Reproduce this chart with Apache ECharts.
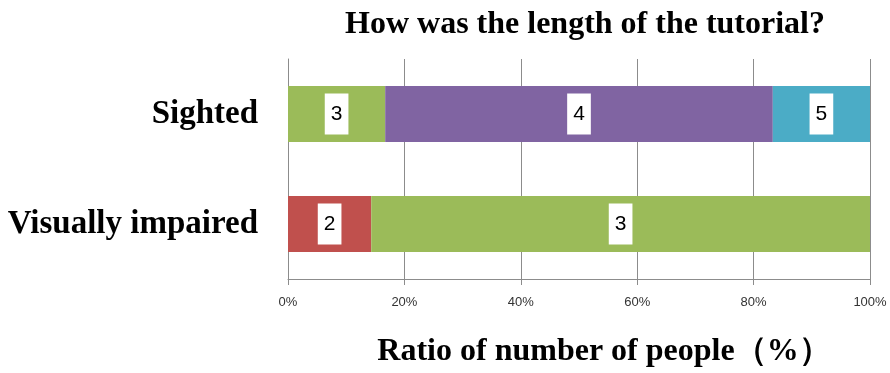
<!DOCTYPE html>
<html>
<head>
<meta charset="utf-8">
<script src="https://cdn.jsdelivr.net/npm/echarts@6/dist/echarts.min.js"></script>
<style>
  html, body { margin: 0; padding: 0; background: #fff; }
  #chart { width: 890px; height: 373px; }
</style>
</head>
<body>
<div id="chart"></div>
<script>
// Respondent groups (top to bottom)
const groups = ['Sighted', 'Visually impaired'];

// Rating levels given for the tutorial length, with share of each group (%)
const ratings = ['2', '3', '4', '5'];
const rating2 = [0, 14.3];
const rating3 = [16.7, 85.7];
const rating4 = [66.6, 0];
const rating5 = [16.7, 0];

const xTicks = [0, 20, 40, 60, 80, 100];
const ratingColors = ['#C0504D', '#9BBB59', '#8064A2', '#4BACC6'];

const serif = '"Liberation Serif", "Times New Roman", serif';
const sans = '"Liberation Sans", Arial, sans-serif';

const shares = [rating2, rating3, rating4, rating5];

const chart = echarts.init(document.getElementById('chart'), null, { renderer: 'canvas' });

chart.setOption({
  animation: false,
  backgroundColor: '#ffffff',
  title: {
    text: 'How was the length of the tutorial?',
    left: 580,
    textAlign: 'center',
    top: 4,
    textStyle: { fontFamily: serif, fontWeight: 'bold', fontSize: 32, color: '#000' }
  },
  grid: { left: 288, right: 20, top: 59, bottom: 92 },
  xAxis: {
    type: 'value',
    min: xTicks[0],
    max: xTicks[xTicks.length - 1],
    interval: 20,
    name: 'Ratio of number of people（%）',
    nameLocation: 'middle',
    nameGap: 57,
    nameTextStyle: { fontFamily: serif, fontWeight: 'bold', fontSize: 32, color: '#000', padding: [0, 0, 0, 50] },
    axisLine: { show: true, lineStyle: { color: '#8c8c8c', width: 1 } },
    axisTick: { show: true, length: 6, lineStyle: { color: '#8c8c8c' } },
    axisLabel: {
      formatter: v => v + '%',
      fontFamily: sans,
      fontSize: 13,
      color: '#333',
      margin: 17
    },
    splitLine: { show: true, lineStyle: { color: '#8c8c8c', width: 1 } }
  },
  yAxis: {
    type: 'category',
    inverse: true,
    data: groups,
    axisLine: { show: true, lineStyle: { color: '#8c8c8c', width: 1 } },
    axisTick: { show: false },
    axisLabel: {
      fontFamily: serif,
      fontWeight: 'bold',
      fontSize: 33,
      color: '#000',
      margin: 30
    }
  },
  series: ratings.map((r, i) => ({
    name: r,
    type: 'bar',
    stack: 'total',
    barWidth: 56,
    itemStyle: { color: ratingColors[i] },
    // empty shares are left out so no label box is drawn for them
    data: shares[i].map(v => (v > 0 ? v : '-')),
    label: {
      show: true,
      position: 'inside',
      formatter: p => p.seriesName,
      fontFamily: sans,
      fontSize: 21,
      lineHeight: 21,
      color: '#000',
      backgroundColor: '#ffffff',
      padding: [10, 6, 10, 6]
    }
  }))
});
</script>
</body>
</html>
